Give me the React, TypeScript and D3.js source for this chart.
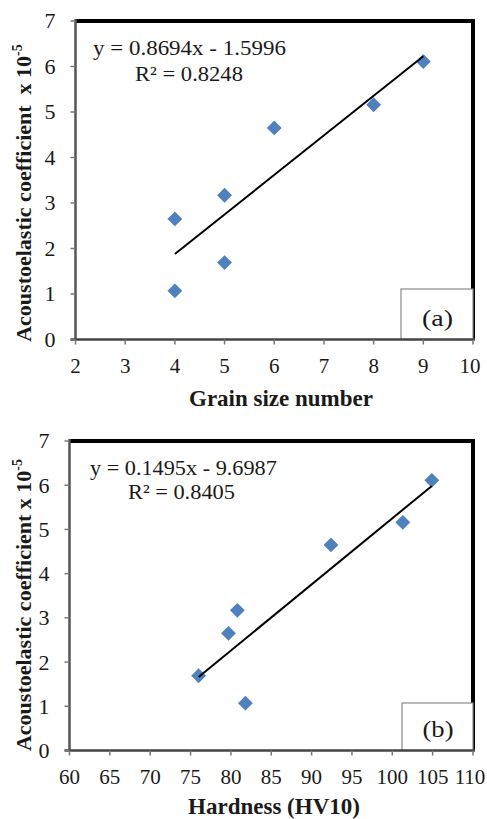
import React, { useLayoutEffect, useRef, useState } from "react";
import { scaleLinear, symbol, symbolSquare, range } from "d3";

const width = 487;
const height = 819;

// samples (same coefficient values in both panels)
const coefficient = [1.07, 1.69, 2.65, 3.17, 4.65, 5.16, 6.11];
const grainSize = [4, 5, 4, 5, 6, 8, 9];
const hardness = [81.8, 76, 79.7, 80.8, 92.4, 101.3, 104.9];

const yTicks = [0, 1, 2, 3, 4, 5, 6, 7];
const grainTicks = [2, 3, 4, 5, 6, 7, 8, 9, 10];
const hardnessTicks = [60, 65, 70, 75, 80, 85, 90, 95, 100, 105, 110];

// trend lines from the fitted equations
const fitA = { slope: 0.8694, intercept: -1.5996, r2: "0.8248" };
const fitB = { slope: 0.1495, intercept: -9.6987, r2: "0.8405" };

const font = "'Liberation Serif', 'Times New Roman', serif";
const markColor = "#4F81BD";
const diamond = symbol().type(symbolSquare).size(110)();

// text box in the plot area is stretched sideways in the original, so
// measure the text and squeeze it into the wanted width
const StretchText = ({ x, y, w, size, children }: any) => {
  const ref = useRef<SVGTextElement>(null);
  const [k, setK] = useState(1);
  useLayoutEffect(() => {
    if (ref.current) {
      const len = ref.current.getComputedTextLength();
      if (len > 0) setK(w / len);
    }
  }, [w]);
  return (
    <text ref={ref} transform={`translate(${x},${y}) scale(${k},1)`} fontSize={size}>
      {children}
    </text>
  );
};

type PanelProps = {
  xs: number[];
  ys: number[];
  xTicks: number[];
  xDomain: [number, number];
  box: { left: number; right: number; top: number; bottom: number };
  fit: { slope: number; intercept: number; r2: string };
  eqPos: { x: number; y: number; w: number; rx: number; ry: number; rw: number };
  tag: string;
  tagBox: { x: number; y: number };
  xLabel: string;
  xLabelPos: { x: number; y: number };
  yLabel: string;
  yLabelY: number;
};

const Panel = ({
  xs,
  ys,
  xTicks,
  xDomain,
  box,
  fit,
  eqPos,
  tag,
  tagBox,
  xLabel,
  xLabelPos,
  yLabel,
  yLabelY,
}: PanelProps) => {
  const xScale = scaleLinear().domain(xDomain).range([box.left, box.right]);
  const yScale = scaleLinear().domain([0, 7]).range([box.bottom, box.top]);

  const xMin = Math.min(...xs);
  const xMax = Math.max(...xs);
  const fy = (x: number) => fit.slope * x + fit.intercept;
  const sign = fit.intercept < 0 ? "-" : "+";
  const lastTick = xTicks[xTicks.length - 1];

  return (
    <g fontFamily={font} fill="#1a1a1a">
      {/* frame: heavy top/right, gray axes left/bottom */}
      <line x1={box.left} x2={box.right + 2} y1={box.top} y2={box.top} stroke="#000" strokeWidth={4} />
      <line x1={box.right} x2={box.right} y1={box.top} y2={box.bottom} stroke="#000" strokeWidth={4} />

      {/* tag box */}
      <rect
        x={tagBox.x}
        y={tagBox.y}
        width={box.right - tagBox.x}
        height={box.bottom - tagBox.y}
        fill="#fff"
        stroke="#8a8a8a"
        strokeWidth={1.2}
      />
      <StretchText x={(tagBox.x + box.right) / 2 - 15} y={box.bottom - 14} w={31} size={23}>
        {tag}
      </StretchText>

      <line x1={box.left} x2={box.left} y1={box.top - 2} y2={box.bottom} stroke="#555" strokeWidth={2.5} />
      <line x1={box.left - 5} x2={box.right + 2} y1={box.bottom} y2={box.bottom} stroke="#444" strokeWidth={2.5} />

      {yTicks.map((t) => (
        <g key={"y" + t}>
          <line x1={box.left - 5} x2={box.left} y1={yScale(t)} y2={yScale(t)} stroke="#777" strokeWidth={1.5} />
          <text x={box.left - 20} y={yScale(t)} dy="0.34em" fontSize={22} textAnchor="end">
            {t}
          </text>
        </g>
      ))}
      {xTicks.map((t) => (
        <g key={"x" + t}>
          <line x1={xScale(t)} x2={xScale(t)} y1={box.bottom} y2={box.bottom + 5} stroke="#777" strokeWidth={1.5} />
          <text
            x={t === lastTick && xScale(t) + 17 > width ? width - 17 : xScale(t)}
            y={box.bottom + 33}
            fontSize={21}
            textAnchor="middle"
          >
            {t}
          </text>
        </g>
      ))}

      {/* points */}
      {range(xs.length).map((i) => (
        <path
          key={i}
          d={diamond}
          fill={markColor}
          transform={`translate(${xScale(xs[i])},${yScale(ys[i])}) rotate(45)`}
        />
      ))}

      {/* linear trend line */}
      <line
        x1={xScale(xMin)}
        y1={yScale(fy(xMin))}
        x2={xScale(xMax)}
        y2={yScale(fy(xMax))}
        stroke="#000"
        strokeWidth={2}
      />

      <StretchText x={eqPos.x} y={eqPos.y} w={eqPos.w} size={21}>
        {`y = ${fit.slope}x ${sign} ${Math.abs(fit.intercept)}`}
      </StretchText>
      <StretchText x={eqPos.rx} y={eqPos.ry} w={eqPos.rw} size={21}>
        {`R² = ${fit.r2}`}
      </StretchText>

      <text x={xLabelPos.x} y={xLabelPos.y} fontSize={23} fontWeight="bold" textAnchor="middle">
        {xLabel}
      </text>
      <text
        transform={`translate(31,${yLabelY}) rotate(-90)`}
        fontSize={22}
        fontWeight="bold"
        textAnchor="middle"
        style={{ whiteSpace: "pre" }}
      >
        {yLabel}
        <tspan dy={-9} fontSize={14}>
          -5
        </tspan>
      </text>
    </g>
  );
};

export default function App() {
  return (
    <svg
      width={width}
      height={height}
      style={{ position: "absolute", left: 0, top: 0, background: "#fff" }}
    >
      <rect width={width} height={height} fill="#fff" />
      <Panel
        xs={grainSize}
        ys={coefficient}
        xTicks={grainTicks}
        xDomain={[2, 10]}
        box={{ left: 75.5, right: 473, top: 21, bottom: 339.5 }}
        fit={fitA}
        eqPos={{ x: 93, y: 55, w: 193, rx: 135, ry: 81, rw: 108 }}
        tag="(a)"
        tagBox={{ x: 401, y: 289 }}
        xLabel="Grain size number"
        xLabelPos={{ x: 281, y: 406 }}
        yLabel="Acoustoelastic coefficient  x 10"
        yLabelY={193}
      />
      <Panel
        xs={hardness}
        ys={coefficient}
        xTicks={hardnessTicks}
        xDomain={[60, 110]}
        box={{ left: 69.5, right: 473, top: 441, bottom: 750.5 }}
        fit={fitB}
        eqPos={{ x: 90, y: 475, w: 187, rx: 128, ry: 499, rw: 107 }}
        tag="(b)"
        tagBox={{ x: 402, y: 703 }}
        xLabel="Hardness (HV10)"
        xLabelPos={{ x: 274, y: 814 }}
        yLabel="Acoustoelastic coefficient x 10"
        yLabelY={605}
      />
    </svg>
  );
}
